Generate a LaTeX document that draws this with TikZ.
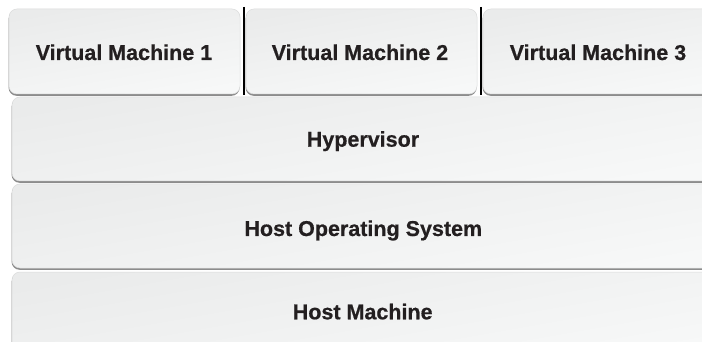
\documentclass[tikz,border=0pt]{standalone}
\usepackage{fontspec}
\setmainfont{Liberation Sans}[BoldFeatures={FakeBold=0.6}]
\usetikzlibrary{shadows}
\definecolor{layertop}{HTML}{EAEBEB}
\definecolor{layerbot}{HTML}{F7F8F8}
\definecolor{layeredge}{HTML}{DADBDB}
\definecolor{layertext}{HTML}{231F20}
\tikzset{
  layer/.style={rectangle, rounded corners=8pt, inner sep=0pt,
    draw=layeredge, line width=0.5pt,
    top color=layertop, bottom color=layerbot, shading angle=10,
    drop shadow={shadow xshift=-0.4pt, shadow yshift=-1.8pt, fill=black!60, opacity=0.75}},
  vmbox/.style={layer, minimum width=231pt, minimum height=85pt},
  wide/.style={layer, minimum width=702pt, minimum height=84pt},
  caption/.style={anchor=base, inner sep=0pt,
    font=\fontsize{21.5}{25}\selectfont\bfseries, text=layertext},
  divider/.style={line width=2pt, black}
}
\begin{document}
\begin{tikzpicture}[x=1pt, y=-1pt]
  \useasboundingbox (0,0) rectangle (702,342);
  \fill[white] (0,0) rectangle (702,342);
  \clip (0,0) rectangle (702,342);
  % stack of layers, bottom to top
  \node[wide] (host)   at (363,314) {};
  \node[wide] (hostos) at (363,226) {};
  \node[wide] (hyper)  at (363,139) {};
  % guest machines
  \node[vmbox] (vm1) at (124.5,51.5) {};
  \node[vmbox] (vm2) at (361.5,51.5) {};
  \node[vmbox] (vm3) at (598.5,51.5) {};
  % layer captions, placed on their baselines
  \node[caption] (vm1text)    at (124,60)    {Virtual Machine 1};
  \node[caption] (vm2text)    at (360,60)    {Virtual Machine 2};
  \node[caption] (vm3text)    at (598,60)    {Virtual Machine 3};
  \node[caption] (hypertext)  at (363,146.7) {Hypervisor};
  \node[caption] (hostostext) at (363.3,236) {Host Operating System};
  \node[caption] (hosttext)   at (362.7,319.3) {Host Machine};
  % separators between the guests
  \draw[divider] (244,7) -- (244,95.5);
  \draw[divider] (480.5,7) -- (480.5,95.5);
\end{tikzpicture}
\end{document}
